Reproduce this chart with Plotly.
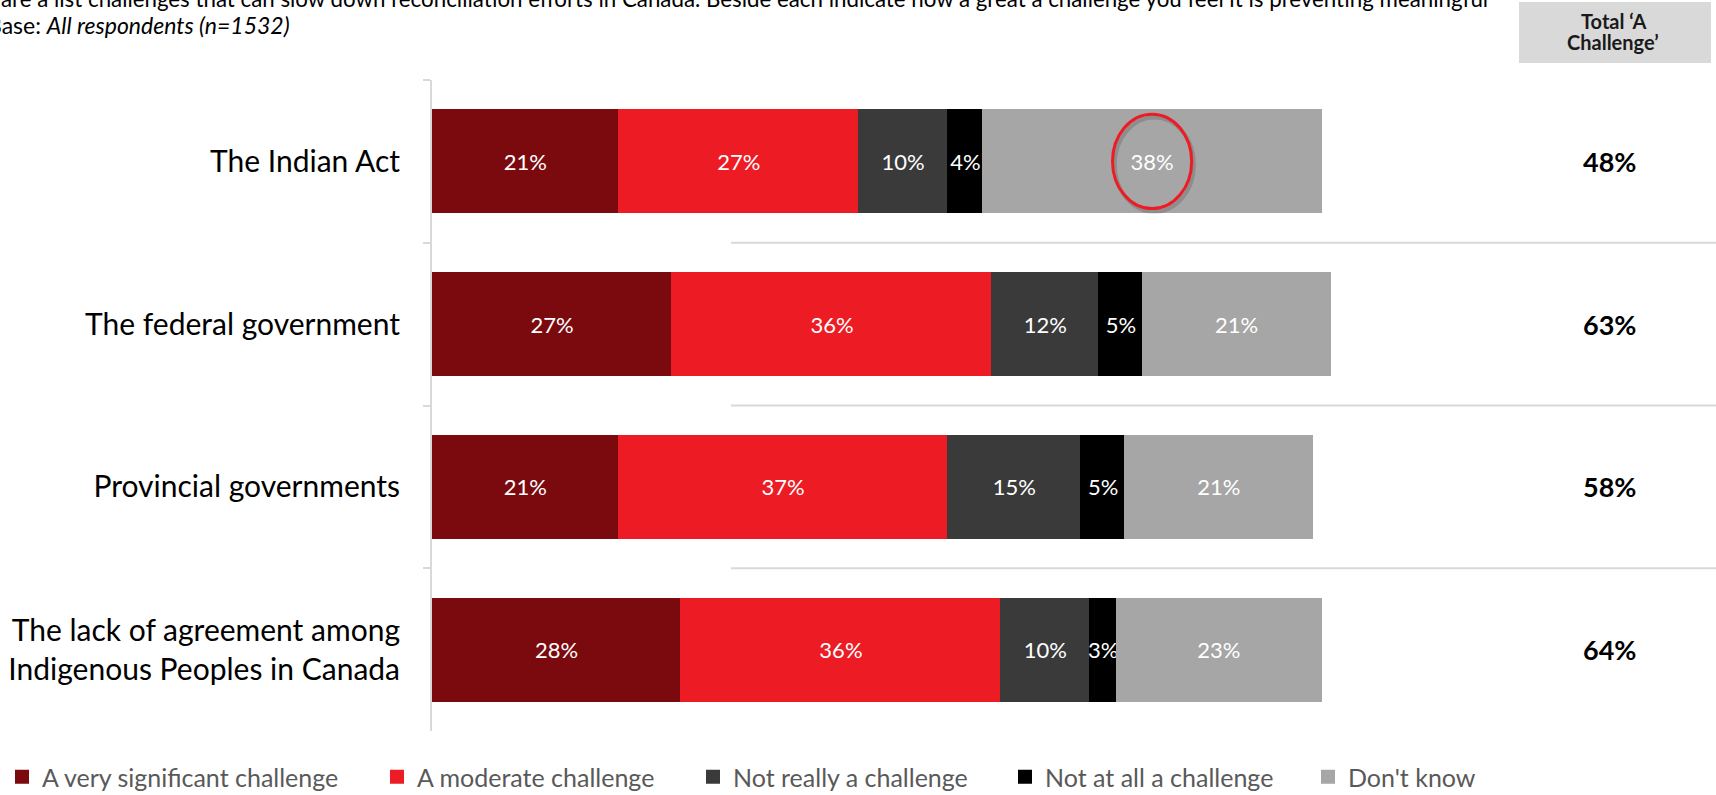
import plotly.graph_objects as go

# ---------------- data ----------------
categories = [
    "The Indian Act",
    "The federal government",
    "Provincial governments",
    "The lack of agreement among<br>Indigenous Peoples in Canada",
]
series_names = [
    "A very significant challenge",
    "A moderate challenge",
    "Not really a challenge",
    "Not at all a challenge",
    "Don't know",
]
very_significant = [21, 27, 21, 28]
moderate = [27, 36, 37, 36]
not_really = [10, 12, 15, 10]
not_at_all = [4, 5, 5, 3]
dont_know = [38, 21, 21, 23]
total_challenge = [48, 63, 58, 64]

header_line1 = "Total ‘A"
header_line2 = "Challenge’"
question_line = ("are a list challenges that can slow down reconciliation efforts in Canada. "
                 "Beside each indicate how a great a challenge you feel it is preventing meaningful")
base_line = "Base: <i>All respondents (n=1532)</i>"

colors = ["#7B0A0F", "#ED1C24", "#3A3A3A", "#000000", "#A6A6A6"]
series_values = [very_significant, moderate, not_really, not_at_all, dont_know]

# ---------------- layout geometry ----------------
W, H = 1716, 795
ML, MR, MT, MB = 432, 0, 80, 64
PW = W - ML - MR
PH = H - MT - MB
PX_PER_PCT = 8.89
XMAX = PW / PX_PER_PCT
FONT = "Lato"


def px_x(px):
    return (px - ML) / PW


def px_y(py):
    return (H - MB - py) / PH


fig = go.Figure()

legend_text_x = [42, 417, 733, 1045, 1348]
for i, (name, vals, col) in enumerate(zip(series_names, series_values, colors)):
    lg = "legend" if i == 0 else f"legend{i + 1}"
    fig.add_trace(go.Bar(
        y=categories,
        x=vals,
        name=name,
        orientation="h",
        width=0.628,
        marker=dict(color=col, line=dict(width=2, color=col)),
        text=[f"{v}%" for v in vals],
        textposition="inside",
        insidetextanchor="middle",
        textangle=0,
        constraintext="none",
        textfont=dict(family=FONT, size=22, color="#FFFFFF"),
        hoverinfo="skip",
        legend=lg,
    ))

legend_layouts = {}
for i, tx in enumerate(legend_text_x):
    key = "legend" if i == 0 else f"legend{i + 1}"
    legend_layouts[key] = dict(
        x=px_x(tx - 40), xanchor="left",
        y=px_y(777), yanchor="middle",
        orientation="h",
        font=dict(family=FONT, size=25, color="#595959"),
        bgcolor="rgba(0,0,0,0)",
        borderwidth=0,
        itemclick=False, itemdoubleclick=False,
    )

shapes = []
# separator lines in the right part
for b in [0.5, 1.5, 2.5]:
    shapes.append(dict(type="line", xref="paper", yref="y",
                       x0=px_x(731), x1=1.0, y0=b, y1=b,
                       line=dict(color="#D9D9D9", width=2), layer="below"))
# header box
shapes.append(dict(type="rect", xref="paper", yref="paper",
                   x0=px_x(1519), x1=px_x(1711), y0=px_y(63), y1=px_y(2),
                   fillcolor="#D9D9D9", line=dict(width=0), layer="below"))
# red highlight circle around the Indian Act "Don't know" label
cx = very_significant[0] + moderate[0] + not_really[0] + not_at_all[0] + dont_know[0] / 2
rx = 4.45
ry = 0.29
shapes.append(dict(type="circle", xref="x", yref="y",
                   x0=cx - rx + 0.25, x1=cx + rx + 0.25, y0=-ry + 0.02, y1=ry + 0.02,
                   line=dict(color="rgba(0,0,0,0.15)", width=4), layer="above"))
shapes.append(dict(type="circle", xref="x", yref="y",
                   x0=cx - rx, x1=cx + rx, y0=-ry, y1=ry,
                   line=dict(color="#ED1C24", width=3), layer="above"))

annotations = []
for cat, t in zip(categories, total_challenge):
    annotations.append(dict(xref="paper", yref="y", x=px_x(1609), y=cat,
                            text=f"<b>{t}%</b>", showarrow=False,
                            xanchor="center", yanchor="middle",
                            font=dict(family=FONT, size=27, color="#000000")))
for line, py in [(header_line1, 21), (header_line2, 42)]:
    annotations.append(dict(xref="paper", yref="paper", x=px_x(1613), y=px_y(py),
                            text=f"<b>{line}</b>", showarrow=False,
                            xanchor="center", yanchor="middle",
                            font=dict(family=FONT, size=20, color="#1A1A1A")))
annotations.append(dict(xref="paper", yref="paper", x=px_x(-1), y=px_y(-1),
                        text=question_line, showarrow=False,
                        xanchor="left", yanchor="middle",
                        font=dict(family=FONT, size=22.3, color="#000000")))
annotations.append(dict(xref="paper", yref="paper", x=px_x(-15), y=px_y(25),
                        text=base_line, showarrow=False,
                        xanchor="left", yanchor="middle",
                        font=dict(family=FONT, size=23, color="#000000")))

fig.update_layout(
    width=W, height=H,
    margin=dict(l=ML, r=MR, t=MT, b=MB, pad=0, autoexpand=False),
    barmode="stack",
    plot_bgcolor="#FFFFFF",
    paper_bgcolor="#FFFFFF",
    showlegend=True,
    shapes=shapes,
    annotations=annotations,
    xaxis=dict(range=[0, XMAX], visible=False, fixedrange=True),
    yaxis=dict(
        type="category",
        categoryorder="array", categoryarray=categories,
        autorange="reversed",
        showline=True, linecolor="#D9D9D9", linewidth=2,
        ticks="outside", tickson="boundaries", ticklen=7, tickcolor="#D9D9D9", tickwidth=2,
        showgrid=False, zeroline=False,
        tickfont=dict(family=FONT, size=30, color="#000000"),
        ticklabelstandoff=24,
        fixedrange=True,
    ),
    **legend_layouts,
)

fig.write_html("out.html", config={"displayModeBar": False},
               post_script="document.body.style.margin='0px';")
